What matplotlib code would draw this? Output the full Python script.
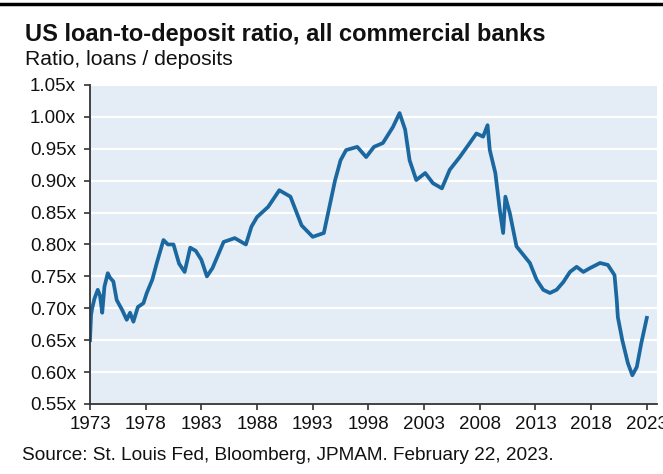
import matplotlib.pyplot as plt
import numpy as np

plt.rcParams['font.family'] = ['Liberation Sans', 'DejaVu Sans']

# approximate readings (decimal year, ratio)
years = [1973.0, 1973.1, 1973.2, 1973.4, 1973.7, 1973.9, 1974.1, 1974.3, 1974.6, 1974.8,
         1975.1, 1975.4, 1975.9, 1976.3, 1976.6, 1976.9, 1977.3, 1977.8, 1978.1, 1978.6,
         1979.0, 1979.6, 1980.0, 1980.5, 1981.0, 1981.5, 1982.0, 1982.5, 1983.0, 1983.5,
         1984.0, 1985.0, 1986.0, 1987.0, 1987.5, 1988.0, 1989.0, 1990.0, 1990.5, 1991.0,
         1992.0, 1993.0, 1994.0, 1995.0, 1995.5, 1996.0, 1997.0, 1997.8, 1998.5, 1999.3,
         2000.2, 2000.8, 2001.3, 2001.7, 2002.3, 2003.1, 2003.8, 2004.6, 2005.3, 2006.2,
         2007.1, 2007.7, 2008.3, 2008.7, 2008.9, 2009.4, 2009.8, 2010.1, 2010.3, 2010.7,
         2011.3, 2011.9, 2012.5, 2013.1, 2013.7, 2014.3, 2014.9, 2015.5, 2016.1, 2016.7,
         2017.3, 2017.9, 2018.8, 2019.5, 2020.1, 2020.3, 2020.4, 2020.8, 2021.3, 2021.7,
         2022.1, 2022.5, 2023.0]
ratio = [0.650, 0.690, 0.700, 0.715, 0.729, 0.720, 0.693, 0.734, 0.755, 0.748,
         0.742, 0.713, 0.697, 0.682, 0.693, 0.679, 0.702, 0.708, 0.724, 0.745,
         0.771, 0.807, 0.800, 0.800, 0.770, 0.757, 0.795, 0.790, 0.776, 0.750,
         0.763, 0.804, 0.810, 0.800, 0.828, 0.843, 0.859, 0.885, 0.880, 0.875,
         0.830, 0.812, 0.818, 0.900, 0.932, 0.948, 0.953, 0.937, 0.953, 0.959,
         0.984, 1.006, 0.980, 0.932, 0.901, 0.912, 0.896, 0.888, 0.917, 0.937,
         0.959, 0.974, 0.969, 0.987, 0.948, 0.912, 0.854, 0.818, 0.875, 0.849,
         0.797, 0.784, 0.771, 0.745, 0.729, 0.724, 0.729, 0.741, 0.757, 0.765,
         0.757, 0.763, 0.771, 0.768, 0.752, 0.713, 0.686, 0.650, 0.614, 0.595,
         0.608, 0.645, 0.685]

xticks = list(range(1973, 2024, 5))
yticks = np.arange(0.55, 1.051, 0.05)

fig = plt.figure(figsize=(6.63, 4.74), dpi=100)
ax = fig.add_axes([0.1357, 0.1477, 0.855, 0.673])
ax.set_facecolor('#e4edf5')

ax.plot(years, ratio, color='#1b68a0', lw=2.7, solid_joinstyle='round')

ax.set_xlim(1973, 2023.9)
ax.set_ylim(0.55, 1.05)
ax.set_xticks(xticks)
ax.set_yticks(yticks)
ax.set_yticklabels([f'{v:.2f}x' for v in yticks])
ax.grid(axis='y', color='white', lw=1.5)
ax.set_axisbelow(True)
for s in ['top', 'right']:
    ax.spines[s].set_visible(False)
for s in ['left', 'bottom']:
    ax.spines[s].set_color('#333333')
    ax.spines[s].set_linewidth(1.3)
ax.tick_params(labelsize=13.5, length=4, width=1.2, color='#333333', labelcolor='#111111')
ax.tick_params(axis='x', pad=5)
ax.tick_params(axis='y', pad=6)

fig.text(0.037, 0.913, 'US loan-to-deposit ratio, all commercial banks',
         fontsize=17, fontweight='bold', color='#111111', va='baseline')
fig.text(0.037, 0.863, 'Ratio, loans / deposits', fontsize=15.2, color='#111111', va='baseline')
fig.text(0.033, 0.03, 'Source: St. Louis Fed, Bloomberg, JPMAM. February 22, 2023.',
         fontsize=13.7, color='#111111', va='baseline')
fig.add_artist(plt.Line2D([0, 1], [0.992, 0.992], color='black', lw=2.5))

fig.savefig('out.png', dpi=100)
